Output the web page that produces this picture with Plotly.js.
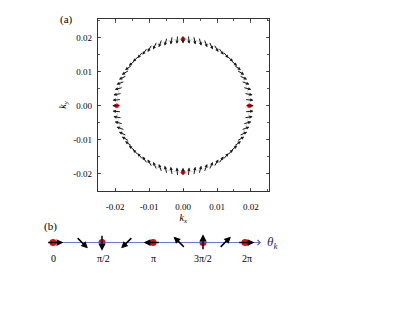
<!DOCTYPE html>
<html>
<head>
<meta charset="utf-8">
<script src="https://cdn.plot.ly/plotly-3.0.1.min.js"></script>
<style>html,body{margin:0;padding:0;background:#fff;}#chart{width:415px;height:312px;}</style>
</head>
<body>
<div id="chart"></div>
<script>
// ---- Panel (a): spin texture on the Fermi circle ----
const circleRadius = 0.0195;
const arrowAnglesDeg = [0,5,10,15,20,25,30,35,40,45,50,55,60,65,70,75,80,85,90,95,100,105,110,115,120,125,130,135,140,145,150,155,160,165,170,175,180,185,190,195,200,205,210,215,220,225,230,235,240,245,250,255,260,265,270,275,280,285,290,295,300,305,310,315,320,325,330,335,340,345,350,355];
const dotAnglesDeg = [0, 90, 180, 270];
const axisTicks = [-0.02, -0.01, 0.00, 0.01, 0.02];
const axisTickText = ['-0.02', '-0.01', '0.00', '0.01', '0.02'];

// ---- Panel (b): spin direction along theta_k ----
const bArrowPos = [0.02, 0.29, 0.49, 0.74, 0.99, 1.265, 1.5, 1.72, 1.93];   // in units of pi (as drawn)
const bSpinDeg  = [0, -45, -90, -135, 180, 135, 90, 45, 0];
const bDotPos   = [0, 0.49, 1.0, 1.5, 1.92];
const bLabelPos = [0, 0.5, 1.0, 1.5, 1.94];
const bLabels   = ['0', 'π/2', 'π', '3π/2', '2π'];

const serif = 'Liberation Serif';
const rad = d => d * Math.PI / 180;

const traces = [];
// faint guide circle
const circX = [], circY = [];
for (let i = 0; i <= arrowAnglesDeg.length; i++) {
  const a = rad(arrowAnglesDeg[i % arrowAnglesDeg.length]);
  circX.push(circleRadius * Math.cos(a));
  circY.push(circleRadius * Math.sin(a));
}
traces.push({x: circX, y: circY, mode: 'lines', line: {color: '#d4d4d4', width: 0.8, shape: 'spline'}, xaxis: 'x', yaxis: 'y', hoverinfo: 'skip', showlegend: false});

const annotations = [];
const halfA = 0.0013;
arrowAnglesDeg.forEach(d => {
  const t = rad(d);
  const cx = circleRadius * Math.cos(t), cy = circleRadius * Math.sin(t);
  const sx = Math.cos(-t), sy = Math.sin(-t);
  annotations.push({
    xref: 'x', yref: 'y', axref: 'x', ayref: 'y',
    x: cx + halfA * sx, y: cy + halfA * sy,
    ax: cx - halfA * sx, ay: cy - halfA * sy,
    text: '', showarrow: true, arrowhead: 2, arrowsize: 0.65, arrowwidth: 1, arrowcolor: '#1a1a1a', standoff: 0, startstandoff: 0
  });
});
traces.push({
  x: dotAnglesDeg.map(d => circleRadius * Math.cos(rad(d))),
  y: dotAnglesDeg.map(d => circleRadius * Math.sin(rad(d))),
  mode: 'markers', marker: {color: '#ff0000', size: 4.5}, xaxis: 'x', yaxis: 'y', showlegend: false
});

// panel (b)
annotations.push({
  xref: 'x2', yref: 'y2', axref: 'x2', ayref: 'y2',
  x: 2.08, y: 0, ax: -0.06, ay: 0, text: '', showarrow: true,
  arrowhead: 4, arrowsize: 1.3, arrowwidth: 0.8, arrowcolor: '#4a55c8', standoff: 0
});
traces.push({
  x: bDotPos, y: bDotPos.map(() => 0), mode: 'markers',
  marker: {color: '#ff0000', size: 7}, xaxis: 'x2', yaxis: 'y2', showlegend: false
});
const halfB = 0.083;
bArrowPos.forEach((p, i) => {
  const t = rad(bSpinDeg[i]);
  const sx = Math.cos(t), sy = Math.sin(t);
  annotations.push({
    xref: 'x2', yref: 'y2', axref: 'x2', ayref: 'y2',
    x: p + halfB * sx, y: halfB * sy,
    ax: p - halfB * sx, ay: -halfB * sy,
    text: '', showarrow: true, arrowhead: 2, arrowsize: 0.9, arrowwidth: 1.5, arrowcolor: '#000', standoff: 0
  });
});
bLabels.forEach((lab, i) => {
  annotations.push({xref: 'x2', yref: 'y2', x: bLabelPos[i], y: -0.16, text: lab, showarrow: false,
    font: {family: serif, size: 10, color: '#000'}, xanchor: 'center', yanchor: 'middle'});
});
annotations.push({xref: 'x2', yref: 'y2', x: 2.12, y: 0, text: '<i>θ</i><sub><i>k</i></sub>', showarrow: false,
  font: {family: serif, size: 13, color: '#2a2a6a'}, xanchor: 'left', yanchor: 'middle'});

// panel labels
annotations.push({xref: 'paper', yref: 'paper', x: 58/415, y: 1 - 19/312, text: '(a)', showarrow: false,
  font: {family: serif, size: 11, color: '#000'}, xanchor: 'left', yanchor: 'middle'});
annotations.push({xref: 'paper', yref: 'paper', x: 42/415, y: 1 - 226/312, text: '(b)', showarrow: false,
  font: {family: serif, size: 11, color: '#000'}, xanchor: 'left', yanchor: 'middle'});

const layout = {
  width: 415, height: 312,
  margin: {l: 0, r: 0, t: 0, b: 0},
  paper_bgcolor: '#fff', plot_bgcolor: '#fff',
  showlegend: false,
  font: {family: serif, color: '#000'},
  xaxis: {
    domain: [97.7/415, 269/415], range: [-0.0251, 0.0253], anchor: 'y',
    tickvals: axisTicks, ticktext: axisTickText, ticks: 'inside', ticklen: 3.5, tickwidth: 0.8, tickcolor: '#333',
    minor: {dtick: 0.005, ticks: 'inside', ticklen: 2, tickwidth: 0.8, tickcolor: '#333'},
    showline: true, linecolor: '#333', linewidth: 1, mirror: 'allticks', showgrid: false, zeroline: false,
    tickfont: {family: serif, size: 9, color: '#000'}, ticklabelstandoff: 7,
    title: {text: '<i>k</i><sub><i>x</i></sub>', font: {family: serif, size: 10}, standoff: 1}
  },
  yaxis: {
    domain: [1 - 191/312, 1 - 19/312], range: [-0.025, 0.0254], anchor: 'x',
    tickvals: axisTicks, ticktext: axisTickText, ticks: 'inside', ticklen: 3.5, tickwidth: 0.8, tickcolor: '#333',
    minor: {dtick: 0.005, ticks: 'inside', ticklen: 2, tickwidth: 0.8, tickcolor: '#333'},
    showline: true, linecolor: '#333', linewidth: 1, mirror: 'allticks', showgrid: false, zeroline: false,
    tickfont: {family: serif, size: 9, color: '#000'}, ticklabelstandoff: 3,
    title: {text: '<i>k</i><sub><i>y</i></sub>', font: {family: serif, size: 10}, standoff: 4}
  },
  xaxis2: {domain: [0, 1], range: [-0.53, 3.62], anchor: 'y2', visible: false, fixedrange: true},
  yaxis2: {domain: [1 - 270/312, 1 - 215/312], range: [-0.275, 0.275], anchor: 'x2', visible: false, fixedrange: true},
  annotations: annotations
};

Plotly.newPlot('chart', traces, layout, {displayModeBar: false, staticPlot: true});
</script>
</body>
</html>
